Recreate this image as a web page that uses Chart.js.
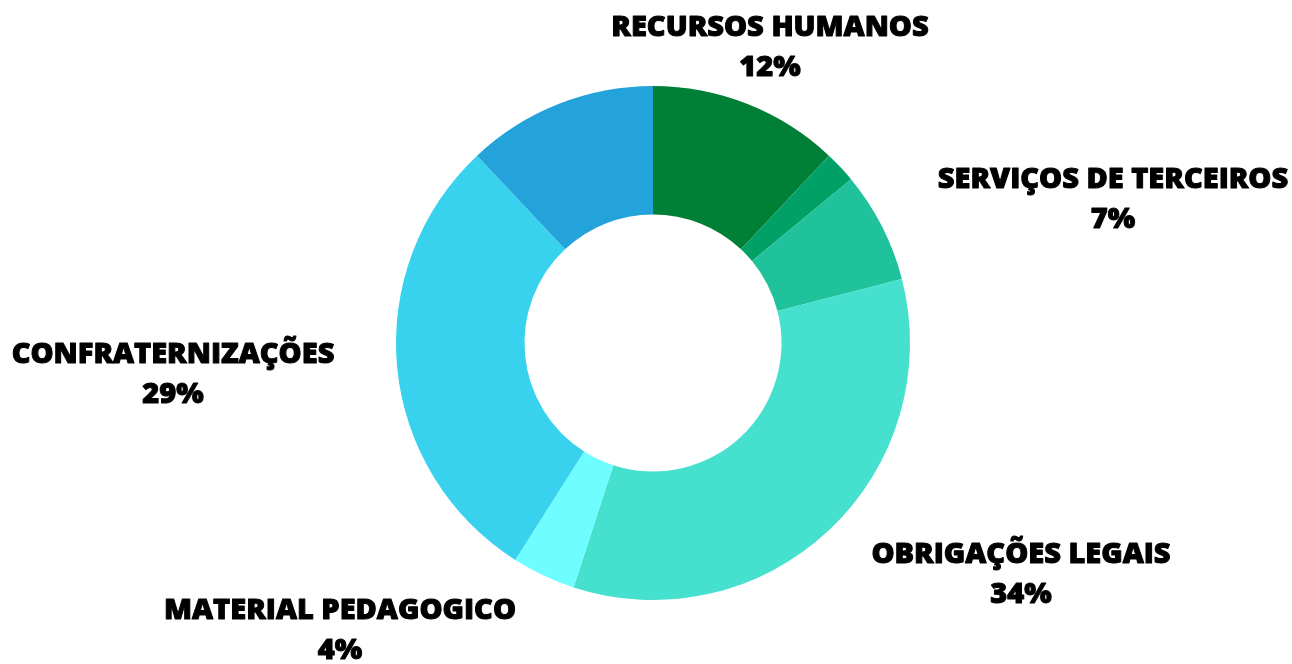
<!DOCTYPE html>
<html>
<head>
<meta charset="utf-8">
<script src="https://cdn.jsdelivr.net/npm/chart.js@4.4.1/dist/chart.umd.min.js"></script>
<style>
  html, body { margin: 0; padding: 0; background: #fff; }
  #wrap { width: 1292px; height: 664px; position: relative; }
</style>
</head>
<body>
<div id="wrap"><canvas id="despesas"></canvas></div>
<script>
// categorias (as fatias sem nome não levam rótulo)
const categorias = ['RECURSOS HUMANOS', '', 'SERVIÇOS DE TERCEIROS', 'OBRIGAÇÕES LEGAIS', 'MATERIAL PEDAGOGICO', 'CONFRATERNIZAÇÕES', ''];
const percentuais = [12, 2, 7, 34, 4, 29, 12];
const cores = ['#007f36', '#00a067', '#1fc29b', '#46e0cf', '#6ffeff', '#38d1ee', '#24a3db'];

// onde fica cada rótulo, relativo ao centro da rosca
const posRotulos = [[117, -315], null, [460, -163], [368, 212], [-313, 268], [-480, 12], null];

const rotulosExternos = {
  id: 'rotulosExternos',
  afterDraw(chart) {
    const ctx = chart.ctx;
    const arc = chart.getDatasetMeta(0).data[0];
    const cx = arc.x, cy = arc.y;
    ctx.save();
    ctx.fillStyle = '#000';
    ctx.strokeStyle = '#000';
    ctx.lineWidth = 1;
    ctx.lineJoin = 'round';
    ctx.textAlign = 'center';
    ctx.textBaseline = 'middle';
    ctx.font = '800 29px "Open Sans", sans-serif';
    categorias.forEach((nome, i) => {
      if (!nome || !posRotulos[i]) return;
      const x = cx + posRotulos[i][0];
      const y = cy + posRotulos[i][1];
      const pct = percentuais[i] + '%';
      // traço fino por cima para engrossar a letra
      ctx.fillText(nome, x, y);
      ctx.strokeText(nome, x, y);
      ctx.fillText(pct, x, y + 40);
      ctx.strokeText(pct, x, y + 40);
    });
    ctx.restore();
  }
};

new Chart(document.getElementById('despesas'), {
  type: 'doughnut',
  data: {
    labels: categorias,
    datasets: [{
      data: percentuais,
      backgroundColor: cores,
      borderWidth: 0
    }]
  },
  options: {
    responsive: true,
    maintainAspectRatio: false,
    animation: false,
    cutout: '50%',
    layout: { padding: { top: 86, bottom: 64, left: 396, right: 382 } },
    plugins: {
      legend: { display: false },
      tooltip: { enabled: false }
    }
  },
  plugins: [rotulosExternos]
});
</script>
</body>
</html>
